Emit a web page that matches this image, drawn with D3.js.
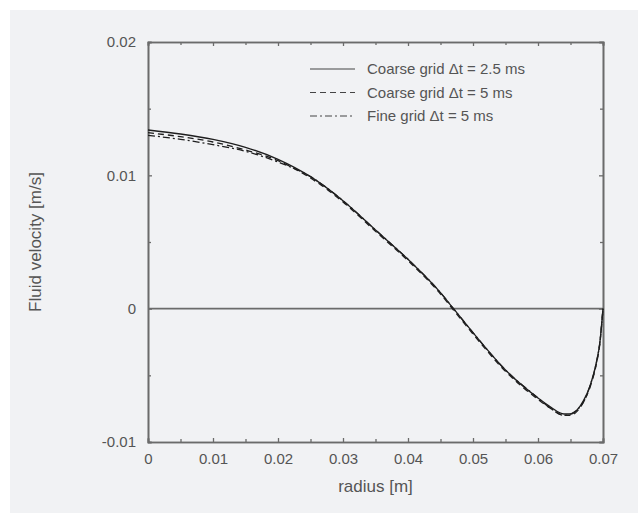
<!DOCTYPE html>
<html><head><meta charset="utf-8">
<script src="https://cdn.jsdelivr.net/npm/d3@7"></script>
<style>
html,body{margin:0;padding:0;background:#fff;}
text{font-family:"Liberation Sans",Arial,sans-serif;}
</style></head>
<body><svg id="c" width="638" height="513"></svg>
<script>
const radius = [0,0.005,0.01,0.015,0.02,0.025,0.03,0.035,0.04,0.045,0.047,0.05,0.055,0.06,0.062,0.064,0.065,0.066,0.067,0.068,0.069,0.0695,0.07];
const coarse25 = [0.0134,0.0131,0.0127,0.0121,0.0112,0.0099,0.0081,0.0059,0.0037,0.0012,0.0,-0.0018,-0.0046,-0.0067,-0.0074,-0.0079,-0.0079,-0.0076,-0.0069,-0.0058,-0.0040,-0.0026,0.0];
const coarse5  = [0.0132,0.0129,0.0125,0.0119,0.0111,0.0098,0.0080,0.0058,0.0036,0.0011,-0.0001,-0.0019,-0.0047,-0.0068,-0.0075,-0.0080,-0.0080,-0.0077,-0.0070,-0.0059,-0.0041,-0.0027,0.0];
const fine5    = [0.0130,0.0127,0.0123,0.0118,0.0110,0.0099,0.0081,0.0059,0.0037,0.0012,0.0,-0.0018,-0.0046,-0.0067,-0.0075,-0.0080,-0.0079,-0.0076,-0.0070,-0.0058,-0.0040,-0.0026,0.0];
const seriesNames = ["Coarse grid \u0394t = 2.5 ms","Coarse grid \u0394t = 5 ms","Fine grid \u0394t = 5 ms"];
const xTicks = [0,0.01,0.02,0.03,0.04,0.05,0.06,0.07];
const xMinor = [0.005,0.015,0.025,0.035,0.045,0.055,0.065];
const yTicks = [-0.01,0,0.01,0.02];
const yMinor = [-0.005,0.005,0.015];

const svg = d3.select("#c");
svg.append("rect").attr("x",10).attr("y",10).attr("width",628).attr("height",503).attr("fill","#f1f2f4");

const L=148,R=603,T=42,B=442;
const x = d3.scaleLinear().domain([0,0.07]).range([L,R]);
const y = d3.scaleLinear().domain([-0.01,0.02]).range([B,T]);
const axCol="#6b6b6b", txtCol="#555";

const g = svg.append("g");
const fmt = d=> d===0?"0":String(+d.toFixed(3));

const xb = g.append("g").attr("transform",`translate(0,${B})`)
  .call(d3.axisBottom(x).tickValues(xTicks).tickSize(-4).tickPadding(11).tickFormat(fmt));
const xt = g.append("g").attr("transform",`translate(0,${T})`)
  .call(d3.axisTop(x).tickValues(xTicks).tickSize(-4).tickFormat(""));
const xbm = g.append("g").attr("transform",`translate(0,${B})`)
  .call(d3.axisBottom(x).tickValues(xMinor).tickSize(-3).tickFormat(""));
const xtm = g.append("g").attr("transform",`translate(0,${T})`)
  .call(d3.axisTop(x).tickValues(xMinor).tickSize(-3).tickFormat(""));
const yl = g.append("g").attr("transform",`translate(${L},0)`)
  .call(d3.axisLeft(y).tickValues(yTicks).tickSize(-4).tickPadding(12).tickFormat(fmt));
const yr = g.append("g").attr("transform",`translate(${R},0)`)
  .call(d3.axisRight(y).tickValues(yTicks).tickSize(-4).tickFormat(""));
const ylm = g.append("g").attr("transform",`translate(${L},0)`)
  .call(d3.axisLeft(y).tickValues(yMinor).tickSize(-3).tickFormat(""));
const yrm = g.append("g").attr("transform",`translate(${R},0)`)
  .call(d3.axisRight(y).tickValues(yMinor).tickSize(-3).tickFormat(""));
[xb,xt,xbm,xtm,yl,yr,ylm,yrm].forEach(a=>{
  a.select(".domain").attr("stroke",axCol).attr("stroke-width",1.6);
  a.selectAll(".tick line").attr("stroke",axCol).attr("stroke-width",1.3);
  a.selectAll(".tick text").attr("fill",txtCol).attr("font-size",15).attr("font-family","Liberation Sans, Arial, sans-serif");
});

g.append("line").attr("x1",L).attr("x2",R).attr("y1",y(0)).attr("y2",y(0))
  .attr("stroke",axCol).attr("stroke-width",1.6);

const line = d3.line().x((d,i)=>x(radius[i])).y(d=>y(d)).curve(d3.curveMonotoneX);
const styles = [null,"6,4","7,3,2,3"];
[coarse25,coarse5,fine5].forEach((s,k)=>{
  g.append("path").attr("d",line(s)).attr("fill","none").attr("stroke","#1e1e1e")
   .attr("stroke-width",1.3).attr("stroke-dasharray",styles[k]);
});

seriesNames.forEach((n,k)=>{
  const yy = 69 + k*23.5;
  g.append("line").attr("x1",310).attr("x2",355).attr("y1",yy).attr("y2",yy)
   .attr("stroke","#444").attr("stroke-width",1.2).attr("stroke-dasharray",styles[k]);
  g.append("text").attr("x",367).attr("y",yy+5).attr("font-size",15).attr("fill",txtCol).text(n);
});

svg.append("text").attr("x",(L+R)/2).attr("y",492).attr("text-anchor","middle")
  .attr("font-size",17).attr("fill",txtCol).text("radius [m]");
svg.append("text").attr("transform",`translate(41,${(T+B)/2}) rotate(-90)`).attr("text-anchor","middle")
  .attr("font-size",17).attr("fill",txtCol).text("Fluid velocity [m/s]");
</script></body></html>
